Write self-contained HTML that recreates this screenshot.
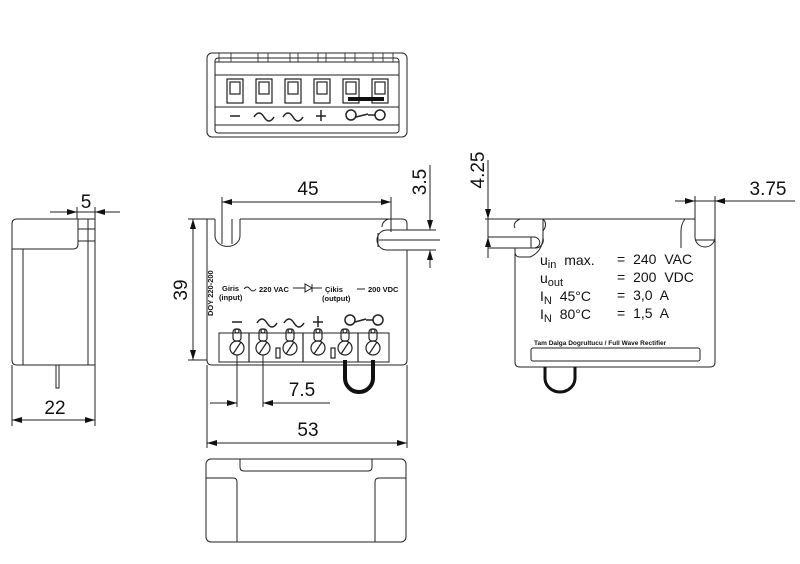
<!DOCTYPE html>
<html><head><meta charset="utf-8"><style>
html,body{margin:0;padding:0;background:#fff;}
svg{display:block;}
text{font-family:"Liberation Sans",sans-serif;fill:#111;}
</style></head><body>
<svg width="800" height="564" viewBox="0 0 800 564" xmlns="http://www.w3.org/2000/svg">
<g fill="none" stroke="#222" stroke-width="1">
<!-- TOP VIEW -->
<rect x="207" y="53" width="200" height="84" rx="5"/>
<rect x="215" y="58" width="184" height="75" rx="3"/>
<line x1="215" y1="62" x2="399" y2="62"/>
<g stroke-width="0.8">
<line x1="219" y1="53" x2="219" y2="62"/><line x1="231" y1="53" x2="231" y2="62"/>
<line x1="258" y1="53" x2="258" y2="62"/><line x1="268" y1="53" x2="268" y2="62"/>
<line x1="290" y1="53" x2="290" y2="62"/><line x1="298" y1="53" x2="298" y2="62"/>
<line x1="318" y1="53" x2="318" y2="62"/><line x1="326" y1="53" x2="326" y2="62"/>
<line x1="345" y1="53" x2="345" y2="62"/><line x1="355" y1="53" x2="355" y2="62"/>
<line x1="373" y1="53" x2="373" y2="62"/><line x1="383" y1="53" x2="383" y2="62"/><line x1="393" y1="53" x2="393" y2="62"/>
</g>
<line x1="215" y1="75" x2="399" y2="75"/>
<line x1="215" y1="107" x2="399" y2="107"/>
<line x1="215" y1="125" x2="399" y2="125"/>
<g stroke-width="1.2">
<rect x="227" y="79" width="16" height="24"/><rect x="230" y="82" width="10" height="12"/>
<rect x="256" y="79" width="16" height="24"/><rect x="259" y="82" width="10" height="12"/>
<rect x="285" y="79" width="16" height="24"/><rect x="288" y="82" width="10" height="12"/>
<rect x="314" y="79" width="16" height="24"/><rect x="317" y="82" width="10" height="12"/>
<rect x="343" y="79" width="16" height="24"/><rect x="346" y="82" width="10" height="12"/>
<rect x="372" y="79" width="16" height="24"/><rect x="375" y="82" width="10" height="12"/>
</g>
<rect x="348" y="97" width="36" height="4" fill="#111" stroke="none"/>
<g stroke-width="1.5">
<line x1="230" y1="116" x2="240" y2="116"/>
<path d="M254,117 q5,-8 10,0 t10,0"/><path d="M283,117 q5,-8 10,0 t10,0"/>
<line x1="316" y1="116" x2="326" y2="116"/><line x1="321" y1="110" x2="321" y2="121"/>
<circle cx="351" cy="115" r="5"/><circle cx="380" cy="115" r="5"/><path d="M356,117 L368,114 M368,115 L375,115"/>
</g>

<!-- FRONT VIEW -->
<path d="M215,219 L207,219 L207,360 q0,5 5,5 L402,365 q5,0 5,-5 L407,250 M407,230 L407,224 q0,-5 -5,-5 L240,219"/>
<path d="M215,219 L215,236 a12,10 0 0 0 25,0 L240,219"/>
<path d="M222,219 L222,244 M232,219 L232,244"/>
<path d="M407,230 L387,230 a10,10 0 0 0 0,20 L407,250"/>
<path d="M379,240 L440,240 M378,233 L378,247"/>
<path d="M400,219 L390,219 a8,8 0 0 0 -8,8"/>
<line x1="222" y1="244" x2="222" y2="197"/><line x1="391" y1="232" x2="391" y2="197"/>
<line x1="222" y1="202" x2="391" y2="202"/>
<line x1="188" y1="219" x2="207" y2="219"/><line x1="188" y1="360" x2="207" y2="360"/>
<line x1="193" y1="219" x2="193" y2="360"/>
<line x1="407" y1="230" x2="436" y2="230"/><line x1="407" y1="250" x2="436" y2="250"/>
<line x1="430" y1="165" x2="430" y2="230"/>
<line x1="430" y1="268" x2="430" y2="250"/>
<rect x="219" y="333" width="170" height="29"/>
<g stroke-width="1.2">
<line x1="249" y1="333" x2="249" y2="362"/><line x1="303" y1="333" x2="303" y2="362"/><line x1="358" y1="333" x2="358" y2="362"/>
<rect x="276" y="348" width="4" height="10"/><rect x="331" y="348" width="4" height="10"/>
</g>
<g stroke-width="1.2">
<g id="sc"><circle cx="237" cy="348" r="7"/><line x1="233" y1="354" x2="241" y2="342"/><rect x="233" y="329" width="8" height="12" rx="3"/><circle cx="237" cy="331" r="2"/></g>
<use href="#sc" x="26"/><use href="#sc" x="53"/><use href="#sc" x="81"/><use href="#sc" x="108"/><use href="#sc" x="136"/>
</g>
<path d="M345,360 L345,378 a14,14 0 0 0 28,0 L373,360" stroke="#111" stroke-width="4"/>
<g stroke-width="1.5">
<line x1="232" y1="322" x2="242" y2="322"/>
<path d="M257,323 q5,-8 10,0 t10,0"/><path d="M284,323 q5,-8 10,0 t10,0"/>
<line x1="313" y1="322" x2="323" y2="322"/><line x1="318" y1="316" x2="318" y2="327"/>
<circle cx="350" cy="320" r="5"/><circle cx="378" cy="320" r="5"/><path d="M355,322 L366,319 M366,320 L373,320"/>
</g>
<path d="M293,288 L305,288 M305,284 L305,292 L312,288 Z M312,284 L312,292 M312,288 L322,288" stroke-width="1"/>
<path d="M244,289 q3,-4 6,0 t6,0" stroke-width="1"/>
<line x1="357" y1="289" x2="365" y2="289"/>
<line x1="237" y1="355" x2="237" y2="407"/><line x1="263" y1="355" x2="263" y2="407"/>
<line x1="210" y1="403" x2="237" y2="403"/>
<line x1="263" y1="403" x2="330" y2="403"/>
<line x1="207" y1="365" x2="207" y2="448"/><line x1="407" y1="365" x2="407" y2="448"/>
<line x1="207" y1="443" x2="407" y2="443"/>

<!-- SIDE VIEW -->
<path d="M12,249 L12,360 q0,5 5,5 L95,365 L95,219"/>
<path d="M17,219 L78,219 L78,244 q0,5 -5,5 L12,249 L12,224 q0,-5 5,-5"/>
<line x1="23" y1="249" x2="23" y2="365"/><line x1="88" y1="249" x2="88" y2="365"/>
<line x1="78" y1="219" x2="95" y2="219"/>
<line x1="78" y1="229" x2="95" y2="229"/><line x1="78" y1="241" x2="95" y2="241"/>
<line x1="88" y1="219" x2="88" y2="249"/>
<path d="M56,365 L56,388 L59,388 L59,365"/>
<line x1="12" y1="365" x2="12" y2="426"/><line x1="95" y1="365" x2="95" y2="426"/>
<line x1="12" y1="420" x2="95" y2="420"/>
<line x1="77" y1="219" x2="77" y2="207"/><line x1="95" y1="219" x2="95" y2="207"/>
<line x1="50" y1="212" x2="120" y2="212"/>

<!-- BOTTOM VIEW -->
<rect x="206" y="459" width="200" height="83" rx="5"/>
<path d="M240,459 L240,467 q0,4 4,4 L368,471 q4,0 4,-4 L372,459"/>
<path d="M206,478 L233,478 q4,0 4,4 L237,542"/>
<path d="M406,478 L379,478 q-4,0 -4,4 L375,542"/>

<!-- RIGHT VIEW -->
<path d="M543,219 L695,219 M715,219 L715,362 q0,5 -5,5 L520,367 q-5,0 -5,-5 L515,248"/>
<path d="M485,219 L520,219 q-8,4 -5,9 M520,219 L543,219 q5,5 0,12"/>
<path d="M488,237 L535,237 a8,6 0 0 1 0,11 L488,248 M535,248 a8,8 0 0 0 8,-10"/>
<path d="M515,248 L515,252 q0,5 5,5 L530,257 q12,-5 13,-19 L543,219"/>
<line x1="531" y1="237" x2="531" y2="248"/>
<path d="M695,219 L695,237 a10,10 0 0 0 20,0 L715,219"/>
<path d="M685,219 q-4,5 -4,12 L681,248"/>
<line x1="695" y1="240" x2="715" y2="240"/>
<line x1="488" y1="160" x2="488" y2="258"/>
<line x1="695" y1="219" x2="695" y2="196"/><line x1="715" y1="219" x2="715" y2="196"/>
<line x1="675" y1="201" x2="795" y2="201"/>
<rect x="531" y="348" width="169" height="13" rx="2"/>
<path d="M545,367 L545,378 a15,14 0 0 0 30,0 L575,367" stroke="#111" stroke-width="3"/>
</g>

<!-- ARROWHEADS -->
<g fill="#111" stroke="none">
<polygon points="222,202 232,199 232,205"/><polygon points="391,202 381,199 381,205"/>
<polygon points="193,219 190,229 196,229"/><polygon points="193,360 190,350 196,350"/>
<polygon points="430,230 427,220 433,220"/><polygon points="430,250 427,260 433,260"/>
<polygon points="237,403 227,400 227,406"/><polygon points="263,403 273,400 273,406"/>
<polygon points="207,443 217,440 217,446"/><polygon points="407,443 397,440 397,446"/>
<polygon points="12,420 22,417 22,423"/><polygon points="95,420 85,417 85,423"/>
<polygon points="77,212 67,209 67,215"/><polygon points="95,212 105,209 105,215"/>
<polygon points="488,219 485,209 491,209"/><polygon points="488,237 485,247 491,247"/>
<polygon points="695,201 685,198 685,204"/><polygon points="715,201 725,198 725,204"/>
</g>

<!-- TEXT -->
<g font-size="19">
<text x="308" y="195" text-anchor="middle">45</text>
<text x="308" y="436" text-anchor="middle">53</text>
<text x="302" y="396" text-anchor="middle">7.5</text>
<text x="55" y="414" text-anchor="middle">22</text>
<text x="86" y="208" text-anchor="middle">5</text>
<text x="768" y="195" text-anchor="middle">3.75</text>
<text transform="translate(187,290) rotate(-90)" text-anchor="middle">39</text>
<text transform="translate(426,182) rotate(-90)" text-anchor="middle">3.5</text>
<text transform="translate(484,170) rotate(-90)" text-anchor="middle">4.25</text>
</g>
<g font-size="7.5" font-weight="bold">
<text x="222" y="291">Giris</text>
<text x="219" y="300">(input)</text>
<text x="259" y="292">220 VAC</text>
<text x="325" y="292">Çikis</text>
<text x="322" y="301">(output)</text>
<text x="368" y="292">200 VDC</text>
<text transform="translate(213,316) rotate(-90)">DOY 220-200</text>
<text x="534" y="345" font-size="6.5">Tam Dalga Dogrultucu / Full Wave Rectifier</text>
</g>
<g font-size="14" word-spacing="4">
<text x="540" y="265">u<tspan font-size="11" dy="3">in</tspan><tspan dy="-3"> max.</tspan></text>
<text x="540" y="283">u<tspan font-size="11" dy="3">out</tspan></text>
<text x="540" y="301">I<tspan font-size="11" dy="3">N</tspan><tspan dy="-3"> 45°C</tspan></text>
<text x="540" y="319">I<tspan font-size="11" dy="3">N</tspan><tspan dy="-3"> 80°C</tspan></text>
<text x="617" y="264">= 240 VAC</text>
<text x="617" y="282">= 200 VDC</text>
<text x="617" y="300">= 3,0 A</text>
<text x="617" y="318">= 1,5 A</text>
</g>
</svg>
</body></html>
